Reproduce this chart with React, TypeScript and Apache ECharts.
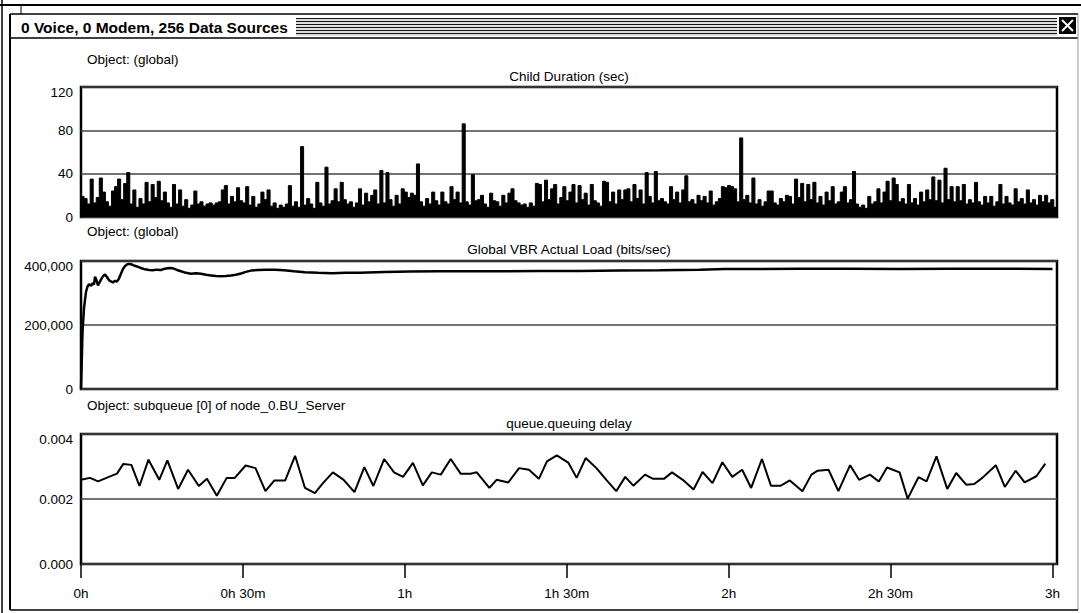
import React, { useEffect, useRef } from "react";
import * as echarts from "echarts";

const FONT = "'Liberation Sans', Arial, sans-serif";

const WINDOW_TITLE = "0 Voice, 0 Modem, 256 Data Sources";
const PANEL_OBJECTS = [
  "Object: (global)",
  "Object: (global)",
  "Object: subqueue [0] of node_0.BU_Server",
];
const PANEL_TITLES = [
  "Child Duration (sec)",
  "Global VBR Actual Load (bits/sec)",
  "queue.queuing delay",
];

// x axis (seconds)
const X_MAX = 10850;
const X_TICKS = [0, 1800, 3600, 5400, 7200, 9000, 10800];
const X_TICK_LABELS = ["0h", "0h 30m", "1h", "1h 30m", "2h", "2h 30m", "3h"];

// y axes
const CHILD_MAX = 120;
const CHILD_INTERVAL = 40;
const LOAD_MAX = 400000;
const LOAD_INTERVAL = 200000;
const DELAY_MAX = 0.004;
const DELAY_INTERVAL = 0.002;

// Panel 1: Child Duration (sec), one sample every CHILD_STEP seconds
const CHILD_STEP = 33.9;
const childDuration = [
  19, 17, 12, 35, 13, 18, 36, 23, 14, 10, 24, 28, 35, 16, 31, 41, 12, 25, 9, 17,
  12, 32, 14, 30, 18, 33, 15, 23, 13, 9, 30, 12, 25, 10, 16, 8, 11, 24, 12, 14,
  10, 12, 13, 11, 13, 14, 25, 29, 12, 19, 14, 27, 15, 13, 28, 11, 19, 9, 12, 23,
  16, 25, 10, 13, 8, 11, 9, 12, 29, 10, 14, 9, 65, 11, 17, 12, 8, 32, 13, 10,
  46, 12, 15, 26, 14, 32, 16, 12, 14, 9, 13, 26, 11, 22, 14, 20, 25, 12, 43, 13,
  41, 16, 10, 20, 12, 26, 23, 18, 22, 20, 49, 14, 10, 17, 12, 23, 15, 11, 23, 14,
  12, 28, 16, 23, 13, 86, 14, 11, 39, 15, 16, 20, 12, 9, 22, 15, 14, 10, 20, 13,
  22, 26, 15, 13, 11, 12, 9, 13, 10, 31, 30, 14, 34, 16, 26, 30, 12, 18, 28, 15,
  23, 30, 13, 29, 16, 22, 11, 30, 15, 13, 10, 33, 32, 14, 23, 12, 25, 16, 25, 26,
  14, 30, 17, 25, 12, 41, 19, 13, 42, 15, 17, 14, 12, 28, 16, 23, 13, 25, 38, 14,
  16, 12, 20, 15, 19, 13, 24, 11, 14, 17, 28, 27, 29, 28, 26, 14, 73, 16, 20, 13,
  36, 12, 16, 10, 14, 24, 24, 13, 11, 17, 14, 20, 19, 12, 35, 18, 31, 14, 30, 16,
  32, 13, 19, 11, 23, 15, 28, 12, 14, 23, 28, 13, 16, 42, 12, 9, 11, 8, 19, 12,
  14, 26, 13, 23, 33, 15, 36, 30, 14, 17, 12, 30, 13, 17, 11, 23, 14, 25, 16, 37,
  15, 34, 13, 45, 16, 28, 14, 28, 15, 30, 12, 16, 13, 32, 14, 11, 19, 13, 19, 10,
  14, 30, 12, 19, 13, 11, 26, 14, 17, 12, 25, 13, 16, 11, 20, 14, 20, 13, 16, 9,
];

// Panel 2: Global VBR Actual Load (bits/sec)
const loadTimes = [
  0, 17, 33, 56, 72, 89, 111, 128, 144, 156, 172, 189, 211, 228, 244, 267, 289, 311, 333, 356,
  378, 400, 422, 444, 467, 489, 511, 533, 556, 578, 622, 667, 711, 756, 800, 844, 889, 933, 978, 1022,
  1067, 1111, 1167, 1222, 1278, 1333, 1389, 1444, 1500, 1556, 1611, 1667, 1722, 1778, 1833, 1889, 1967, 2056, 2156, 2256,
  2367, 2489, 2633, 2789, 2944, 3100, 3378, 3656, 3989, 4322, 4656, 5100, 5544, 5989, 6433, 6878, 7156, 7544, 7989, 8544,
  9100, 9656, 10211, 10800,
];
const loadValues = [
  0, 179000, 252000, 304000, 320000, 328000, 322000, 331000, 326000, 351000, 340000, 324000, 336000, 345000, 352000, 358000, 350000, 340000, 336000, 333000,
  338000, 336000, 345000, 360000, 375000, 384000, 389000, 391000, 390000, 387000, 383000, 378000, 374000, 372000, 371000, 373000, 372000, 376000, 378000, 377000,
  372000, 368000, 363000, 360000, 362000, 360000, 357000, 355000, 353000, 352000, 353000, 355000, 357000, 361000, 366000, 370000, 372000, 373000, 373000, 371000,
  368000, 365000, 363000, 362000, 363000, 363000, 366000, 367000, 368000, 368000, 368000, 369000, 369000, 370000, 371000, 373000, 375000, 375000, 376000, 376000,
  375000, 376000, 376000, 375000,
];

// Panel 3: queue.queuing delay (sec)
const delayTimes = [
  0, 100, 190, 310, 400, 470, 560, 650, 750, 870, 960, 1080, 1190, 1310, 1400, 1510, 1620, 1710, 1830, 1940,
  2050, 2150, 2270, 2380, 2490, 2600, 2690, 2800, 2920, 3040, 3150, 3250, 3370, 3480, 3580, 3690, 3800, 3900, 4000, 4110,
  4220, 4330, 4400, 4540, 4620, 4750, 4870, 4980, 5090, 5180, 5290, 5420, 5510, 5610, 5730, 5840, 5950, 6050, 6140, 6270,
  6360, 6480, 6570, 6690, 6810, 6910, 7020, 7130, 7240, 7350, 7450, 7570, 7670, 7780, 7880, 8020, 8120, 8190, 8310, 8420,
  8550, 8650, 8770, 8870, 8960, 9100, 9190, 9310, 9400, 9510, 9630, 9730, 9840, 9930, 10020, 10170, 10270, 10390, 10490, 10620,
  10720,
];
const delayValues = [
  0.00259, 0.00265, 0.00254, 0.00268, 0.00278, 0.00308, 0.00305, 0.0024, 0.00321, 0.00259, 0.00319, 0.00231, 0.0029, 0.0024, 0.00262, 0.0021, 0.00265, 0.00265, 0.00303, 0.00295,
  0.00224, 0.00257, 0.00257, 0.00333, 0.00234, 0.00218, 0.00249, 0.00282, 0.00259, 0.00221, 0.00298, 0.0024, 0.00323, 0.00282, 0.00268, 0.00311, 0.00242, 0.00282, 0.00275, 0.00323,
  0.00278, 0.00278, 0.00282, 0.00234, 0.00259, 0.00251, 0.00295, 0.0029, 0.00262, 0.00316, 0.00334, 0.00311, 0.00265, 0.00326, 0.00295, 0.00259, 0.00224, 0.00268, 0.00241, 0.00275,
  0.00262, 0.00262, 0.00282, 0.00259, 0.00229, 0.00283, 0.00249, 0.00313, 0.00268, 0.0029, 0.00234, 0.00323, 0.00241, 0.00241, 0.00257, 0.00224, 0.00275, 0.00287, 0.0029, 0.00224,
  0.00304, 0.00259, 0.00275, 0.00254, 0.00297, 0.00282, 0.00201, 0.00267, 0.00254, 0.00331, 0.00231, 0.0028, 0.00244, 0.00246, 0.00265, 0.00304, 0.00237, 0.00287, 0.00251, 0.0027,
  0.00309,
];

const TXT = 13.5;

function yLabel(max: number, fmt: (v: number) => string) {
  return {
    margin: 8,
    formatter: (v: number) =>
      Math.abs(v - max) < max * 1e-6 ? `{t|${fmt(v)}}` : `{n|${fmt(v)}}`,
    rich: {
      t: { padding: [10, 0, 0, 0], fontSize: TXT, fontFamily: FONT, color: "#000" },
      n: { fontSize: TXT, fontFamily: FONT, color: "#000" },
    },
  };
}

function yAxisCfg(gridIndex: number, max: number, interval: number, fmt: (v: number) => string) {
  return {
    gridIndex,
    type: "value",
    min: 0,
    max,
    interval,
    axisLine: { show: false },
    axisTick: { show: false },
    splitLine: { show: true, lineStyle: { color: "#444", width: 1.5 } },
    axisLabel: yLabel(max, fmt),
  };
}

function buildGraphic() {
  const els: any[] = [];
  const line = (x1: number, y1: number, x2: number, y2: number, w: number, c = "#000") =>
    els.push({ type: "line", shape: { x1, y1, x2, y2 }, style: { stroke: c, lineWidth: w }, silent: true });
  // window chrome
  line(0, 5, 1081, 5, 2);
  line(2, 0, 2, 613, 1.5);
  line(10, 14, 10, 610, 2);
  line(21, 5, 21, 14, 1);
  line(10, 14, 1078, 14, 1.5);
  line(10, 38, 1078, 38, 1.5);
  line(1078, 14, 1078, 610, 1, "#999");
  line(10, 610, 1078, 610, 1.5);
  // title bar stripes
  for (let k = 0; k < 6; k++) {
    const y = 18.5 + k * 3;
    line(296, y, 1057, y, 1.2, "#111");
    line(296, y + 1.5, 1057, y + 1.5, 0.8, "#aaa");
  }
  // close box
  els.push({ type: "rect", shape: { x: 1059, y: 17, width: 17, height: 17 }, style: { fill: "#000" } });
  line(1062, 20, 1073, 31, 2, "#fff");
  line(1073, 20, 1062, 31, 2, "#fff");
  els.push({
    type: "text",
    x: 21,
    y: 27,
    style: {
      text: WINDOW_TITLE,
      fill: "#000",
      fontSize: 15.5,
      fontWeight: "bold",
      fontFamily: FONT,
      align: "left",
      verticalAlign: "middle",
      textAlign: "left",
      textVerticalAlign: "middle",
    },
  });
  const objY = [59, 231, 405];
  const titleY = [76, 249, 423];
  for (let k = 0; k < 3; k++) {
    els.push({
      type: "text",
      x: 87,
      y: objY[k],
      style: {
        text: PANEL_OBJECTS[k],
        fill: "#000",
        fontSize: TXT,
        fontFamily: FONT,
        align: "left",
        verticalAlign: "middle",
        textAlign: "left",
        textVerticalAlign: "middle",
      },
    });
    els.push({
      type: "text",
      x: 569,
      y: titleY[k],
      style: {
        text: PANEL_TITLES[k],
        fill: "#000",
        fontSize: TXT,
        fontFamily: FONT,
        align: "center",
        verticalAlign: "middle",
        textAlign: "center",
        textVerticalAlign: "middle",
      },
    });
  }
  return els;
}

export default function App() {
  const ref = useRef<HTMLDivElement>(null);
  useEffect(() => {
    if (!ref.current) return;
    const chart = echarts.init(ref.current, undefined, { renderer: "svg" });
    const gridBase = { show: true, borderColor: "#000", borderWidth: 2.5, backgroundColor: "#fff", containLabel: false };
    const childData = childDuration.map((v, i) => [i * CHILD_STEP, v]);
    childData.push([childDuration.length * CHILD_STEP, childDuration[childDuration.length - 1]]);
    const loadData = loadTimes.map((t, i) => [t, loadValues[i]]);
    const delayData = delayTimes.map((t, i) => [t, delayValues[i]]);
    const xLabelFor = (v: number) => {
      const idx = X_TICKS.indexOf(Math.round(v));
      return idx >= 0 ? X_TICK_LABELS[idx] : "";
    };
    chart.setOption({
      animation: false,
      backgroundColor: "#fff",
      textStyle: { fontFamily: FONT },
      graphic: buildGraphic(),
      grid: [
        { ...gridBase, left: 81, top: 87, width: 976, height: 130 },
        { ...gridBase, left: 81, top: 261, width: 976, height: 128 },
        { ...gridBase, left: 81, top: 434, width: 976, height: 130 },
      ],
      xAxis: [
        { gridIndex: 0, type: "value", min: 0, max: X_MAX, show: false },
        { gridIndex: 1, type: "value", min: 0, max: X_MAX, show: false },
        {
          gridIndex: 2,
          type: "value",
          min: 0,
          max: X_MAX,
          interval: 1800,
          axisLine: { show: false },
          splitLine: { show: false },
          axisTick: {
            show: true,
            length: 14,
            customValues: X_TICKS,
            lineStyle: { color: "#000", width: 1.5 },
          },
          axisLabel: {
            customValues: X_TICKS,
            formatter: xLabelFor,
            margin: 22,
            fontSize: TXT,
            fontFamily: FONT,
            color: "#000",
          },
        },
      ],
      yAxis: [
        yAxisCfg(0, CHILD_MAX, CHILD_INTERVAL, (v) => String(v)),
        yAxisCfg(1, LOAD_MAX, LOAD_INTERVAL, (v) => v.toLocaleString("en-US")),
        yAxisCfg(2, DELAY_MAX, DELAY_INTERVAL, (v) => v.toFixed(3)),
      ],
      series: [
        {
          type: "line",
          xAxisIndex: 0,
          yAxisIndex: 0,
          data: childData,
          step: "end",
          symbol: "none",
          lineStyle: { color: "#000", width: 1 },
          areaStyle: { color: "#000", opacity: 1 },
          silent: true,
        },
        {
          type: "line",
          xAxisIndex: 1,
          yAxisIndex: 1,
          data: loadData,
          symbol: "none",
          lineStyle: { color: "#000", width: 2.5 },
          silent: true,
        },
        {
          type: "line",
          xAxisIndex: 2,
          yAxisIndex: 2,
          data: delayData,
          symbol: "none",
          lineStyle: { color: "#000", width: 2 },
          silent: true,
        },
      ],
    });
    return () => chart.dispose();
  }, []);
  return (
    <div
      ref={ref}
      style={{ position: "fixed", left: 0, top: 0, width: 1081, height: 613, background: "#fff" }}
    />
  );
}
